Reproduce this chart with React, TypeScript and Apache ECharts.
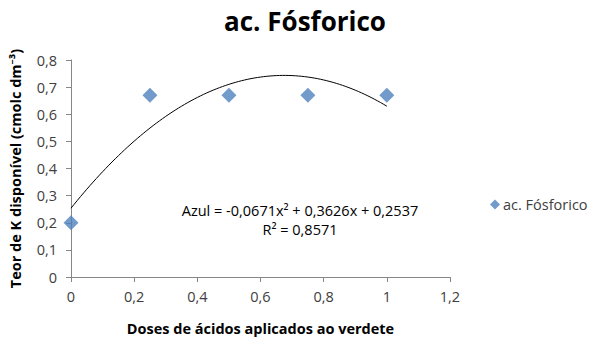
import React, { useEffect, useRef } from "react";
import * as echarts from "echarts";

const doses = [0, 0.25, 0.5, 0.75, 1];
const teorK = [0.2, 0.67, 0.67, 0.67, 0.67];
const xTicks = [0, 0.2, 0.4, 0.6, 0.8, 1, 1.2];
const yTicks = [0, 0.1, 0.2, 0.3, 0.4, 0.5, 0.6, 0.7, 0.8];
const seriesName = "ac. Fósforico";
const equationText = "Azul = -0,0671x² + 0,3626x + 0,2537";
const r2Text = "R² = 0,8571";

// least-squares quadratic fit of the data (Excel polynomial trendline)
function quadFit(xs: number[], ys: number[]) {
  let s0 = xs.length, s1 = 0, s2 = 0, s3 = 0, s4 = 0, t0 = 0, t1 = 0, t2 = 0;
  for (let i = 0; i < xs.length; i++) {
    const x = xs[i], y = ys[i];
    s1 += x; s2 += x * x; s3 += x * x * x; s4 += x * x * x * x;
    t0 += y; t1 += x * y; t2 += x * x * y;
  }
  const M = [
    [s0, s1, s2, t0],
    [s1, s2, s3, t1],
    [s2, s3, s4, t2],
  ];
  for (let i = 0; i < 3; i++) {
    for (let j = i + 1; j < 3; j++) {
      const f = M[j][i] / M[i][i];
      for (let k = i; k < 4; k++) M[j][k] -= f * M[i][k];
    }
  }
  const c = [0, 0, 0];
  for (let i = 2; i >= 0; i--) {
    let s = M[i][3];
    for (let k = i + 1; k < 3; k++) s -= M[i][k] * c[k];
    c[i] = s / M[i][i];
  }
  return c;
}

const fmt = (v: number) => String(Math.round(v * 10) / 10).replace(".", ",");

export default function App() {
  const ref = useRef<HTMLDivElement>(null);
  useEffect(() => {
    if (!ref.current) return;
    const chart = echarts.init(ref.current, null, { renderer: "svg" });
    const [a, b, c] = quadFit(doses, teorK);
    const xMin = doses[0], xMax = doses[doses.length - 1];
    const trend: number[][] = [];
    const steps = 100;
    for (let i = 0; i <= steps; i++) {
      const x = xMin + ((xMax - xMin) * i) / steps;
      trend.push([x, a + b * x + c * x * x]);
    }
    const font = "'Open Sans', 'Noto Sans', sans-serif";
    chart.setOption({
      animation: false,
      textStyle: { fontFamily: font },
      title: {
        text: seriesName,
        left: 300,
        top: 3,
        textAlign: "center",
        textStyle: { fontSize: 26, fontWeight: "bold", color: "#000", fontFamily: font },
      },
      legend: {
        left: 485,
        top: 192,
        orient: "vertical",
        data: [{ name: seriesName, icon: "diamond" }],
        itemWidth: 10,
        itemHeight: 10,
        itemGap: 4,
        textStyle: { fontSize: 14.5, color: "#404040", fontFamily: font, padding: [0, 0, 0, -2] },
      },
      grid: { left: 71, right: 142, top: 60, bottom: 60 },
      xAxis: {
        type: "value",
        min: xTicks[0],
        max: xTicks[xTicks.length - 1],
        interval: 0.2,
        name: "Doses de ácidos aplicados ao verdete",
        nameLocation: "middle",
        nameGap: 44,
        nameTextStyle: { fontSize: 14.5, fontWeight: "bold", color: "#000", fontFamily: font },
        axisLine: { show: true, lineStyle: { color: "#868686", width: 1 } },
        axisTick: { show: true, length: 5, lineStyle: { color: "#868686" } },
        axisLabel: { fontSize: 14.5, color: "#404040", margin: 12, formatter: (v: number) => fmt(v) },
        splitLine: { show: false },
      },
      yAxis: {
        type: "value",
        min: yTicks[0],
        max: yTicks[yTicks.length - 1],
        interval: 0.1,
        name: "Teor de K disponível (cmolc dm⁻³)",
        nameLocation: "middle",
        nameGap: 48,
        nameTextStyle: { fontSize: 14.5, fontWeight: "bold", color: "#000", fontFamily: font },
        axisLine: { show: true, lineStyle: { color: "#868686", width: 1 } },
        axisTick: { show: true, length: 5, lineStyle: { color: "#868686" } },
        axisLabel: { fontSize: 14.5, color: "#404040", margin: 14, formatter: (v: number) => fmt(v) },
        splitLine: { show: false },
      },
      series: [
        {
          name: seriesName,
          type: "scatter",
          symbol: "diamond",
          symbolSize: 15,
          itemStyle: { color: "#4F81BD" },
          data: doses.map((x, i) => [x, teorK[i]]),
          z: 3,
        },
        {
          name: "trend",
          type: "line",
          showSymbol: false,
          symbol: "none",
          smooth: false,
          lineStyle: { color: "#000", width: 1 },
          data: trend,
          z: 2,
          silent: true,
        },
      ],
      graphic: [
        {
          type: "text",
          x: 300,
          y: 201,
          style: {
            text: equationText + "\n" + r2Text,
            align: "center",
            verticalAlign: "top",
            fontSize: 14.5,
            lineHeight: 19,
            fill: "#000",
            fontFamily: font,
          },
        },
      ],
    });
    return () => chart.dispose();
  }, []);
  return (
    <div
      ref={ref}
      style={{ position: "fixed", left: 0, top: 0, width: 592, height: 341, background: "#fff" }}
    />
  );
}
